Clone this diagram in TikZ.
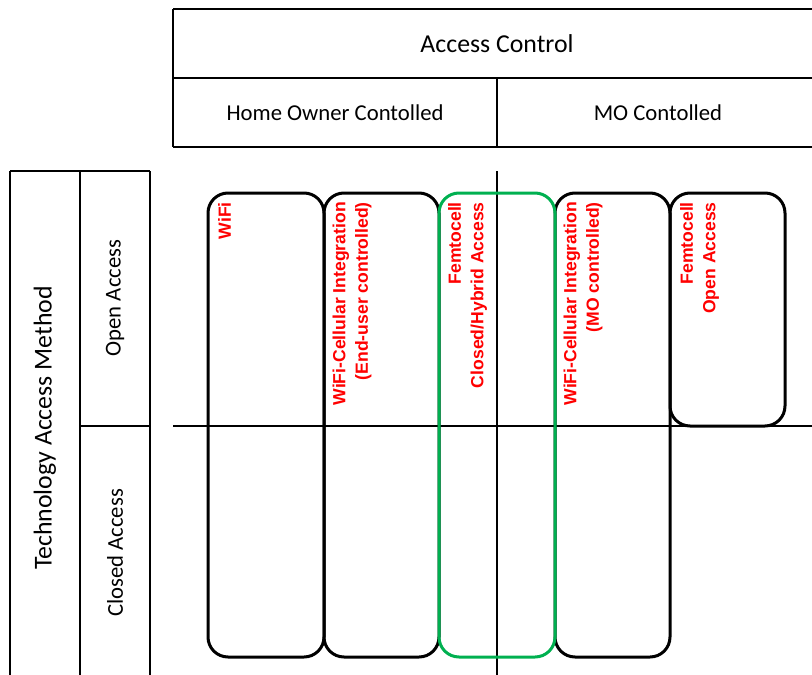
\documentclass[tikz,border=0pt]{standalone}
\usepackage{fontspec}
\setmainfont{Carlito}
\newfontfamily\labelfont{Liberation Sans}
\definecolor{offred}{HTML}{FF0000}
\definecolor{offgreen}{HTML}{00B050}
\begin{document}
\begin{tikzpicture}[x=1pt,y=-1pt,
  gridline/.style={line width=1.1pt,black},
  cell/.style={draw,line width=3pt,rounded corners=20pt,inner sep=0pt,outer sep=0pt,anchor=north west},
  techlabel/.style={rotate=90,anchor=north east,align=right,inner sep=0pt,text=offred,
    font=\labelfont\bfseries\fontsize{17.6}{22.5}\selectfont},
  headtext/.style={inner sep=0pt,font=\fontsize{22.7}{27}\selectfont},
  bigtext/.style={inner sep=0pt,font=\fontsize{25.8}{30}\selectfont}]
\useasboundingbox (0,0) rectangle (812,675);

% column header: access control
\draw[gridline] (173,9) -- (812,9);
\draw[gridline] (173,78) -- (812,78);
\draw[gridline] (173,147) -- (812,147);
\draw[gridline] (173,9) -- (173,147);
\draw[gridline] (497,78) -- (497,147);
\node[bigtext] (ac) at (497,44) {Access Control};
\node[headtext] (home) at (335,113) {Home Owner Contolled};
\node[headtext] (mo) at (658,113) {MO Contolled};

% row header: technology access method
\draw[gridline] (10,171) -- (150,171);
\draw[gridline] (10,171) -- (10,675);
\draw[gridline] (80,171) -- (80,675);
\draw[gridline] (150,171) -- (150,675);
\draw[gridline] (80,426) -- (150,426);
\node[bigtext,rotate=90] (tam) at (45,428) {Technology Access Method};
\node[headtext,rotate=90] (open) at (115,298) {Open Access};
\node[headtext,rotate=90] (closed) at (115,553) {Closed Access};

% quadrant dividers
\draw[gridline] (497,171) -- (497,675);
\draw[gridline] (173,426) -- (812,426);

% technology boxes
\node[cell,minimum width=116pt,minimum height=464pt] (wifi) at (208,193) {};
\node[cell,minimum width=115pt,minimum height=464pt] (wcend) at (324,193) {};
\node[cell,minimum width=115pt,minimum height=464pt] (wcmo) at (555,193) {};
\node[cell,minimum width=115pt,minimum height=233pt] (fopen) at (670,193) {};
\node[cell,draw=offgreen,minimum width=116pt,minimum height=464pt] (fclosed) at (439,193) {};

% technology labels
\node[techlabel] (twifi) at (218,202) {WiFi};
\node[techlabel] (twcend) at (332.5,202) {WiFi-Cellular Integration\\(End-user controlled)};
\node[techlabel] (tfclosed) at (448,202) {Femtocell\\Closed/Hybrid Access};
\node[techlabel] (twcmo) at (563.5,202) {WiFi-Cellular Integration\\(MO controlled)};
\node[techlabel] (tfopen) at (680,202) {Femtocell\\Open Access};
\end{tikzpicture}
\end{document}
